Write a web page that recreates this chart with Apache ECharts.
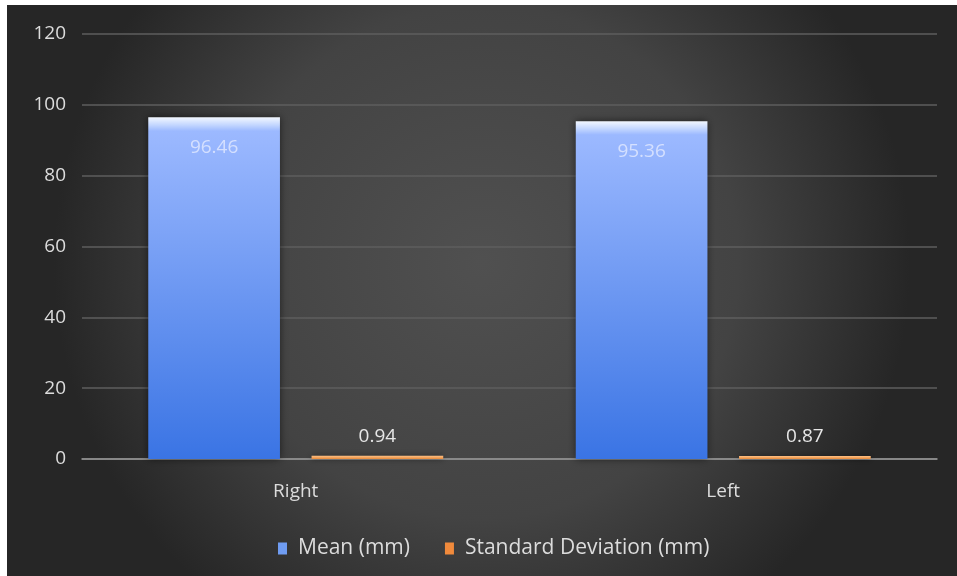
<!DOCTYPE html>
<html>
<head>
<meta charset="utf-8">
<script src="https://cdn.jsdelivr.net/npm/echarts@6/dist/echarts.min.js"></script>
<style>
  html, body { margin: 0; padding: 0; background: #ffffff; }
  #chart { position: absolute; left: 7px; top: 5px; width: 950px; height: 571px; }
</style>
</head>
<body>
<div id="chart"></div>
<script>
// Measured sides and the two summary statistics per side
const categories = ['Right', 'Left'];
const meanValues = [96.46, 95.36];
const sdValues = [0.94, 0.87];
const seriesNames = ['Mean (mm)', 'Standard Deviation (mm)'];
const yTicks = [0, 20, 40, 60, 80, 100, 120];

const chart = echarts.init(document.getElementById('chart'), null, { renderer: 'canvas' });

const font = '"Open Sans", Lato, sans-serif';

const blueFill = new echarts.graphic.LinearGradient(0, 0, 0, 1, [
  { offset: 0, color: '#f2f7ff' },
  { offset: 0.022, color: '#c4d7ff' },
  { offset: 0.04, color: '#9cb9ff' },
  { offset: 1, color: '#3a74e4' }
]);
const orangeFill = new echarts.graphic.LinearGradient(0, 0, 0, 1, [
  { offset: 0, color: '#ffc48a' },
  { offset: 1, color: '#e88a3a' }
]);

chart.setOption({
  backgroundColor: new echarts.graphic.RadialGradient(0.5, 0.45, 0.75, [
    { offset: 0, color: '#505050' },
    { offset: 0.6, color: '#434343' },
    { offset: 1, color: '#262626' }
  ]),
  animation: false,
  textStyle: { fontFamily: font },
  grid: { left: 75, right: 20, top: 29, bottom: 117, containLabel: false },
  legend: {
    data: [
      { name: seriesNames[0], itemStyle: { color: '#6f9cf2' } },
      { name: seriesNames[1], itemStyle: { color: '#f08a3c' } }
    ],
    bottom: 12,
    left: 266,
    itemWidth: 9,
    itemHeight: 12,
    itemGap: 35,
    icon: 'rect',
    textStyle: { color: '#dcdcdc', fontSize: 21, fontFamily: font, padding: [0, 0, 0, 6] }
  },
  xAxis: {
    type: 'category',
    data: categories,
    axisLine: { lineStyle: { color: '#9a9a9a', width: 1.5 } },
    axisTick: { show: false },
    axisLabel: { color: '#dcdcdc', fontSize: 19, margin: 23, fontFamily: font }
  },
  yAxis: {
    type: 'value',
    min: yTicks[0],
    max: yTicks[yTicks.length - 1],
    interval: yTicks[1] - yTicks[0],
    axisLine: { show: false },
    axisTick: { show: false },
    splitLine: { lineStyle: { color: '#5e5e5e', width: 1.5 } },
    axisLabel: { color: '#dcdcdc', fontSize: 19, margin: 16, fontFamily: font }
  },
  series: [
    {
      name: seriesNames[0],
      type: 'bar',
      data: meanValues,
      barGap: '24%',
      barCategoryGap: '31%',
      itemStyle: {
        color: blueFill,
        shadowColor: 'rgba(0,0,0,0.55)',
        shadowBlur: 8
      },
      label: {
        show: true,
        position: 'insideTop',
        distance: 21,
        color: 'rgba(235,240,255,0.72)',
        fontSize: 19,
        fontFamily: font,
        formatter: p => p.value.toFixed(2)
      }
    },
    {
      name: seriesNames[1],
      type: 'bar',
      data: sdValues,
      itemStyle: {
        color: orangeFill,
        shadowColor: 'rgba(0,0,0,0.5)',
        shadowBlur: 6
      },
      label: {
        show: true,
        position: 'top',
        distance: 10,
        color: '#e6e6e6',
        fontSize: 19,
        fontFamily: font,
        formatter: p => p.value.toFixed(2)
      }
    }
  ]
});
</script>
</body>
</html>
